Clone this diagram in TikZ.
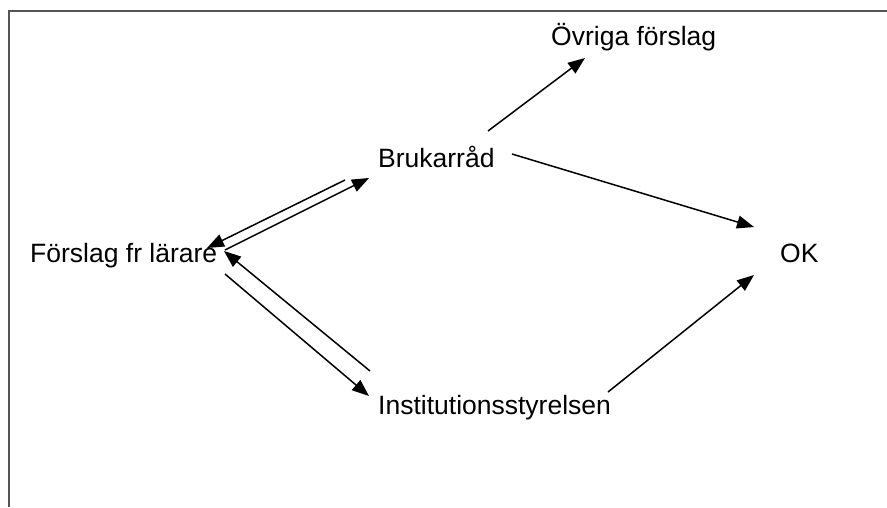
\documentclass[tikz,border=0pt]{standalone}
\usepackage{fontspec}
\setmainfont{Liberation Sans}
\usetikzlibrary{arrows.meta}
\begin{document}
\begin{tikzpicture}[x=1pt,y=-1pt,
  lbl/.style={anchor=base west,inner sep=0pt,font=\fontsize{26.5}{31}\selectfont},
  arr/.style={line width=1.5pt,-{Triangle[length=17pt,width=13pt]}},
  frame/.style={line width=2pt,draw={rgb,255:red,85;green,85;blue,85}}]
\useasboundingbox (0,0) rectangle (887,507);
\draw[frame] (9,507) -- (9,10.5) -- (887,10.5);
\node[lbl] (ovriga) at (551,45) {Övriga förslag};
\node[lbl] (brukar) at (378,167) {Brukarråd};
\node[lbl] (forslag) at (30,262) {Förslag fr lärare};
\node[lbl] (ok) at (780,262) {OK};
\node[lbl] (inst) at (378,414) {Institutionsstyrelsen};
% endpoints
\coordinate (b1) at (488,131);
\coordinate (o1) at (585,58);
\coordinate (b2) at (512,154);
\coordinate (ok1) at (754,227);
\coordinate (i1) at (608,392);
\coordinate (ok2) at (754,275);
\coordinate (f1) at (225,250);
\coordinate (b3) at (369,178);
\coordinate (b4) at (345,180);
\coordinate (f2) at (207,248);
\coordinate (i2) at (370,371);
\coordinate (f3) at (224,251);
\coordinate (f4) at (225,274);
\coordinate (i3) at (369,396);
\draw[arr] (b1) -- (o1);
\draw[arr] (b2) -- (ok1);
\draw[arr] (i1) -- (ok2);
\draw[arr] (f1) -- (b3);
\draw[arr] (b4) -- (f2);
\draw[arr] (i2) -- (f3);
\draw[arr] (f4) -- (i3);
\end{tikzpicture}
\end{document}
